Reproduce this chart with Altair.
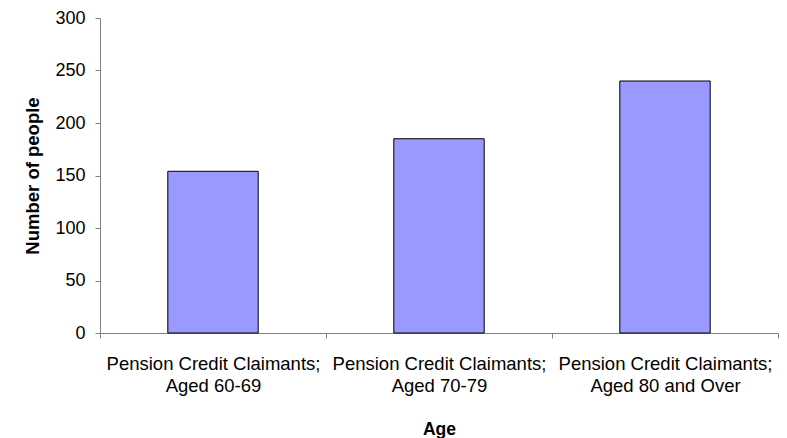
import altair as alt
import pandas as pd

categories = [
    "Pension Credit Claimants; Aged 60-69",
    "Pension Credit Claimants; Aged 70-79",
    "Pension Credit Claimants; Aged 80 and Over",
]
values = [154, 185, 240]
y_ticks = [0, 50, 100, 150, 200, 250, 300]

df = pd.DataFrame({"Age": categories, "People": values})

font = "Liberation Sans"

chart = alt.Chart(df).mark_bar(
    width=alt.RelativeBandSize(0.4),
    color="#9999FF",
    stroke="black",
    strokeWidth=1,
).encode(
    x=alt.X(
        "Age:N",
        sort=categories,
        title="Age",
        scale=alt.Scale(paddingInner=0, paddingOuter=0),
        axis=alt.Axis(
            labelAngle=0,
            tickBand="extent",
            labelExpr="datum.label ? [split(datum.label, '; ')[0] + ';', split(datum.label, '; ')[1]] : ''",
            labelFontSize=18.5,
            labelLineHeight=22,
            labelPadding=16,
            labelLimit=400,
            titleFontSize=17.5,
            titlePadding=26,
            domainColor="#808080",
            tickColor="#808080",
            tickSize=5,
        ),
    ),
    y=alt.Y(
        "People:Q",
        title="Number of people",
        scale=alt.Scale(domain=[0, 300], nice=False),
        axis=alt.Axis(
            values=y_ticks,
            grid=False,
            labelFontSize=18,
            labelPadding=10,
            titleFontSize=18.5,
            titlePadding=12,
            domainColor="#808080",
            tickColor="#808080",
            tickSize=5,
        ),
    ),
).properties(
    width=678,
    height=315,
    padding={"left": 15, "top": 1, "right": 0, "bottom": 2},
).configure_axis(
    labelFont=font,
    titleFont=font,
    labelColor="black",
    titleColor="black",
    titleFontWeight="bold",
).configure_view(stroke=None)

chart.save("out.html", embed_options={"renderer": "svg", "actions": False})
